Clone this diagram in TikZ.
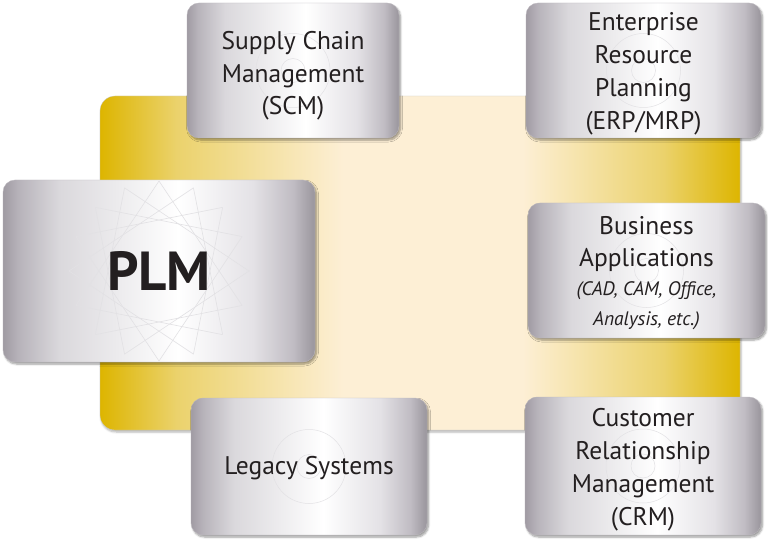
\documentclass[tikz,border=0pt]{standalone}
\usepackage{fontspec}
\setmainfont{PT Sans}
\usetikzlibrary{calc,shadows.blur}
\definecolor{gold}{HTML}{DDB500}
\definecolor{goldB}{HTML}{EBD26C}
\definecolor{cream}{HTML}{FDEFD5}
\definecolor{sgA}{HTML}{A09BA3}
\definecolor{sgA2}{HTML}{B7B3BA}
\definecolor{sgB}{HTML}{DAD8DC}
\definecolor{sgD}{HTML}{E4E2E6}
\definecolor{sgE}{HTML}{C0BCC3}
\definecolor{sgC}{HTML}{99959C}
\definecolor{txt}{HTML}{231F20}
\definecolor{deco}{HTML}{E2E1E4}
\pgfdeclarehorizontalshading{goldsh}{100bp}{color(0bp)=(gold); color(25bp)=(gold); color(31bp)=(goldB); color(44bp)=(cream); color(58bp)=(cream); color(69bp)=(goldB); color(75bp)=(gold); color(100bp)=(gold)}
\pgfdeclarehorizontalshading{silversh}{100bp}{color(0bp)=(sgA); color(25bp)=(sgA); color(27.5bp)=(sgA2); color(34bp)=(sgB); color(53bp)=(white); color(65bp)=(sgD); color(71.5bp)=(sgE); color(75bp)=(sgC); color(100bp)=(sgC)}
\tikzset{
  sysbox/.style={shading=silversh, rounded corners=12pt, draw=sgA!70, line width=0.4pt,
    blur shadow={shadow xshift=1.5pt, shadow yshift=-2pt, shadow opacity=40, shadow blur steps=6},
    inner sep=0pt},
  boxtext/.style={align=center, text=txt, font={\fontsize{25.5}{32.5}\selectfont}},
  decocirc/.style={draw=deco, line width=0.5pt},
}
\begin{document}
\begin{tikzpicture}[x=1pt,y=-1pt]
\useasboundingbox (0,0) rectangle (768,540);
% yellow backdrop
\path[shading=goldsh, rounded corners=15pt, draw=gray!40, line width=0.3pt,
  blur shadow={shadow xshift=1pt, shadow yshift=-2pt, shadow opacity=30, shadow blur steps=5}]
  (100,96) rectangle (740,430);

% boxes
\node[sysbox, minimum width=312pt, minimum height=182pt] (plm) at (159,271) {};
\node[sysbox, minimum width=212pt, minimum height=135pt] (scm) at (293,70.5) {};
\node[sysbox, minimum width=235pt, minimum height=135pt] (erp) at (643.5,70.5) {};
\node[sysbox, minimum width=237pt, minimum height=135pt] (bus) at (646.5,270.5) {};
\node[sysbox, minimum width=236pt, minimum height=137pt] (leg) at (309,466.5) {};
\node[sysbox, minimum width=236pt, minimum height=138pt] (crm) at (643,466) {};

% faint decorations
\foreach \n in {scm,erp,bus,leg,crm}{
  \draw[decocirc] (\n.center) circle[radius=37];
  \draw[decocirc] (\n.center) circle[radius=12];
}
\foreach \k in {0,...,15}{
  \draw[draw=deco, line width=0.6pt]
    ($(plm.center)+({90*cos(22.5*\k)},{90*sin(22.5*\k)})$) --
    ($(plm.center)+({90*cos(22.5*(\k+5))},{90*sin(22.5*(\k+5))})$);
}

% texts
\node[text=txt, font={\fontsize{55}{58}\bfseries\selectfont}] (plmt) at (159,271) {PLM};
\node[boxtext] (scmt) at (293,76) {Supply Chain\\Management\\(SCM)};
\node[boxtext, font={\fontsize{25.5}{33}\selectfont}] (erpt) at (643.5,74) {Enterprise\\Resource\\Planning\\(ERP/MRP)};
\node[boxtext, font={\fontsize{25.5}{31.5}\selectfont}] (bust) at (646.5,244) {Business\\Applications};
\node[boxtext, font={\fontsize{19.5}{30}\itshape\selectfont}] (busi) at (646.5,306) {(CAD, CAM, Office,\\Analysis, etc.)};
\node[boxtext] (legt) at (309,468) {Legacy Systems};
\node[boxtext, font={\fontsize{25.5}{33}\selectfont}] (crmt) at (643,470) {Customer\\Relationship\\Management\\(CRM)};
\end{tikzpicture}
\end{document}
